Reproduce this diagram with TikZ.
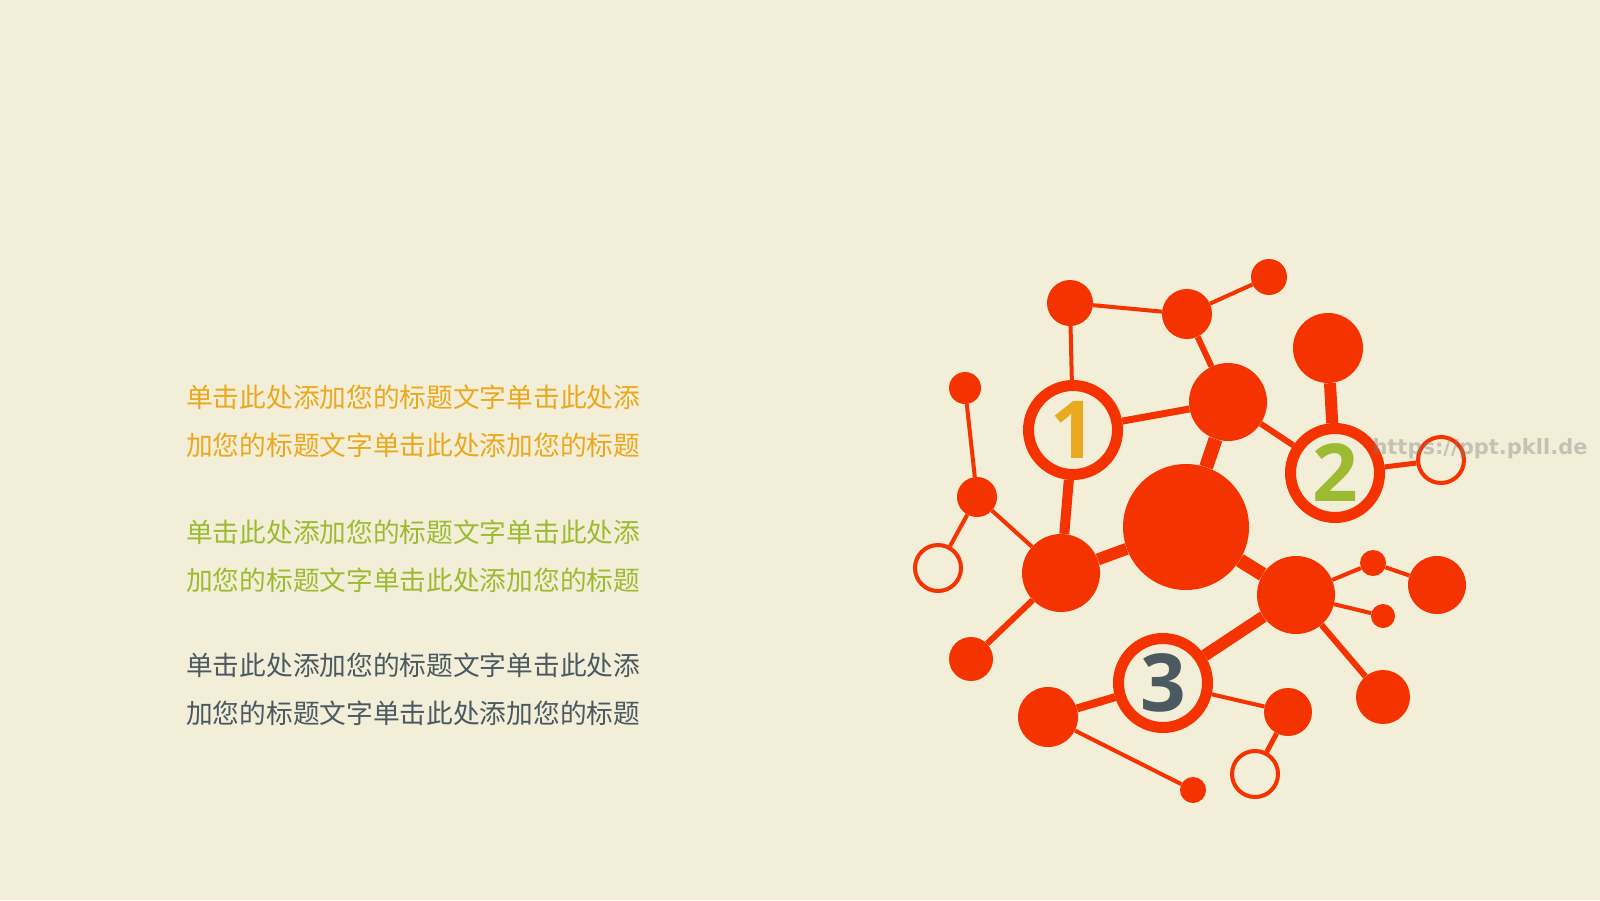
\documentclass[tikz,border=0pt]{standalone}
\usepackage{fontspec}
\newfontfamily\cjk{Noto Sans CJK SC}
\newfontfamily\numfont{Open Sans}
\newfontfamily\urlfont{DejaVu Sans}
\definecolor{paper}{HTML}{F2EED8}
\definecolor{molred}{HTML}{F43300}
\definecolor{txtorange}{HTML}{EAA91E}
\definecolor{txtgreen}{HTML}{9DBB32}
\definecolor{txtslate}{HTML}{4B5A61}
\begin{document}
\begin{tikzpicture}[x=1pt,y=-1pt,
  atom/.style={circle,fill=molred,minimum size=#1,inner sep=0},
  ring/.style={circle,draw=molred,line width=11pt,minimum size=89,inner sep=0,text=#1,font=\numfont\bfseries\fontsize{80}{80}\selectfont},
  hollow/.style={circle,draw=molred,line width=4pt,minimum size=46,inner sep=0},
  bond/.style={draw=molred,line width=#1},
  blurb/.style={anchor=west,align=left,text=#1,inner sep=0,font=\cjk\fontsize{26.7}{48}\selectfont}]
\fill[paper] (0,0) rectangle (1600,900);
\useasboundingbox (0,0) rectangle (1600,900);
\node[blurb=txtorange] (t1) at (186,421) {单击此处添加您的标题文字单击此处添\\加您的标题文字单击此处添加您的标题};
\node[blurb=txtgreen] (t2) at (186,556) {单击此处添加您的标题文字单击此处添\\加您的标题文字单击此处添加您的标题};
\node[blurb=txtslate] (t3) at (186,689) {单击此处添加您的标题文字单击此处添\\加您的标题文字单击此处添加您的标题};
\node[atom=126] (core) at (1186,527) {};
\node[ring=txtorange] (one) at (1073,430) {1};
\node[ring=txtgreen] (two) at (1335,473) {2};
\node[ring=txtslate] (three) at (1163,683) {3};
\node[atom=46] (a) at (1070,303) {};
\node[atom=50] (b) at (1187,314) {};
\node[atom=36] (c) at (1269,277) {};
\node[atom=78] (d) at (1228,402) {};
\node[atom=32] (e) at (965,388) {};
\node[atom=40] (f) at (977,497) {};
\node[atom=70] (g) at (1328,348) {};
\node[hollow] (h) at (1441,460) {};
\node[hollow] (i) at (938,568) {};
\node[atom=78] (j) at (1061,573) {};
\node[atom=44] (k) at (971,659) {};
\node[atom=60] (l) at (1048,717) {};
\node[atom=26] (m) at (1193,790) {};
\node[atom=78] (n) at (1296,595) {};
\node[atom=26] (o) at (1373,563) {};
\node[atom=58] (p) at (1437,585) {};
\node[atom=24] (q) at (1383,616) {};
\node[atom=54] (r) at (1383,697) {};
\node[atom=48] (s) at (1288,712) {};
\node[hollow] (t) at (1255,774) {};
\draw[bond=4pt] (a) -- (one);
\draw[bond=4pt] (a) -- (b);
\draw[bond=4pt] (b) -- (c);
\draw[bond=6pt] (b) -- (d);
\draw[bond=7pt] (one) -- (d);
\draw[bond=10pt] (one) -- (j);
\draw[bond=14pt] (d) -- (core);
\draw[bond=6pt] (d) -- (two);
\draw[bond=12pt] (g) -- (two);
\draw[bond=5pt] (two) -- (h);
\draw[bond=4pt] (e) -- (f);
\draw[bond=4pt] (f) -- (i);
\draw[bond=4pt] (f) -- (j);
\draw[bond=12pt] (j) -- (core);
\draw[bond=6pt] (j) -- (k);
\draw[bond=14pt] (core) -- (n);
\draw[bond=12pt] (n) -- (three);
\draw[bond=4pt] (n) -- (o);
\draw[bond=4pt] (o) -- (p);
\draw[bond=4pt] (n) -- (q);
\draw[bond=6pt] (n) -- (r);
\draw[bond=8pt] (three) -- (l);
\draw[bond=4pt] (l) -- (m);
\draw[bond=4pt] (three) -- (s);
\draw[bond=5pt] (s) -- (t);
\node[text=gray,text opacity=0.4,font=\urlfont\bfseries\fontsize{21}{21}\selectfont] (url) at (1480,449) {https://ppt.pkll.de};
\end{tikzpicture}
\end{document}
